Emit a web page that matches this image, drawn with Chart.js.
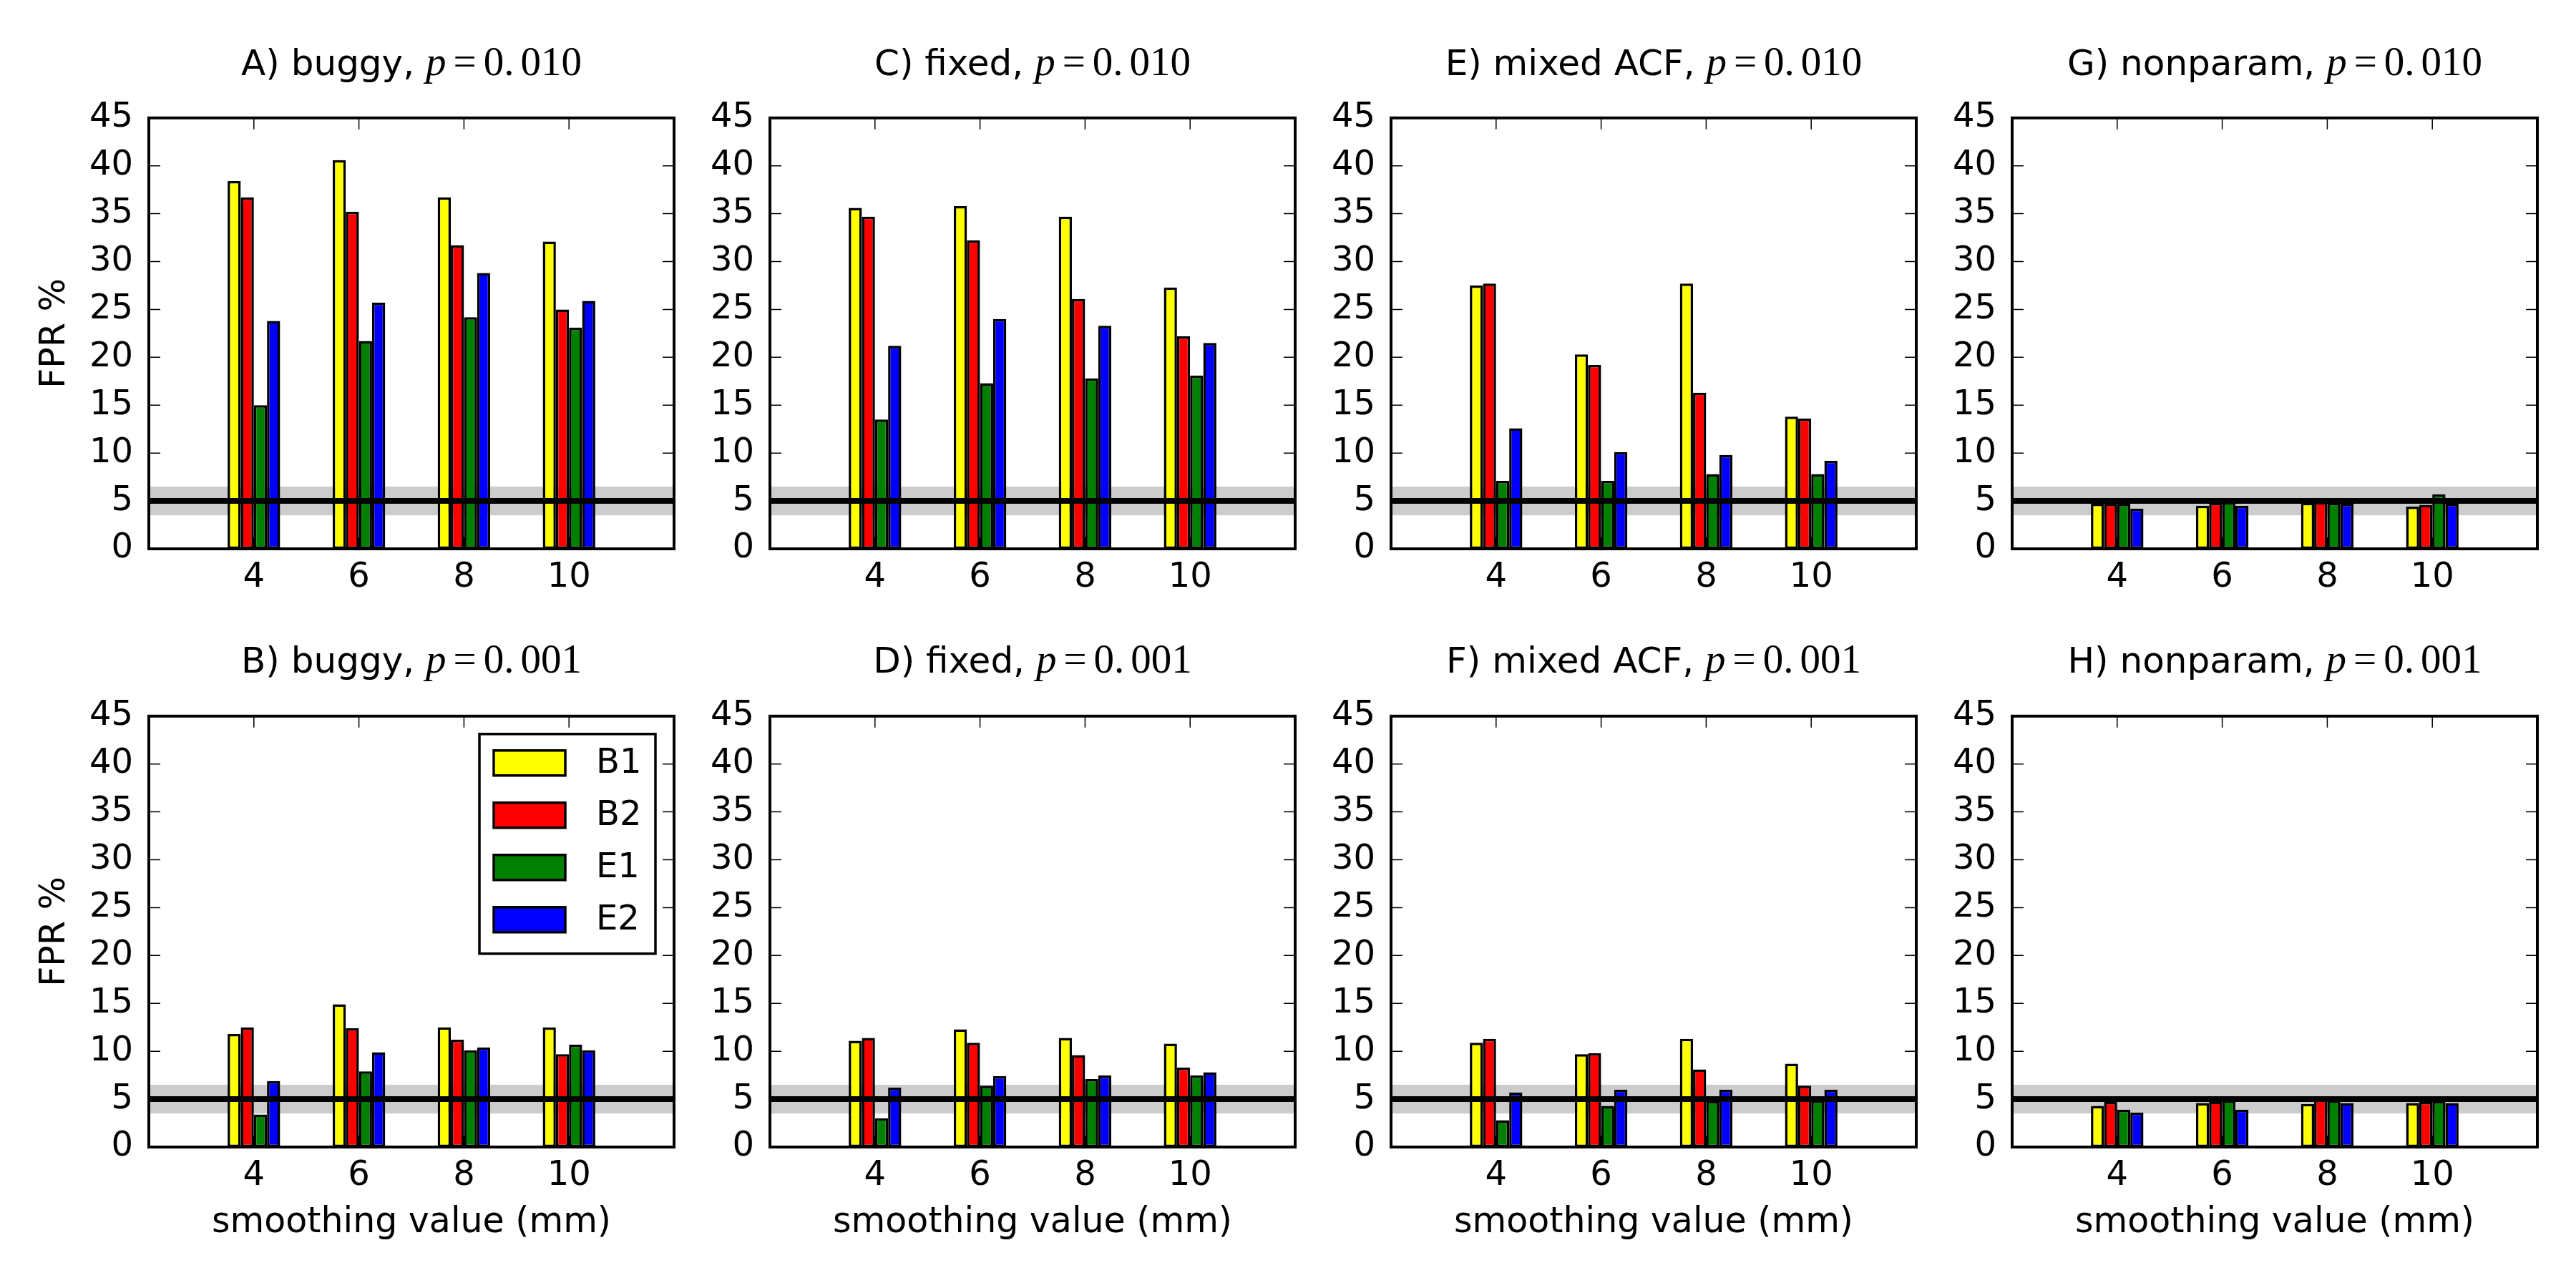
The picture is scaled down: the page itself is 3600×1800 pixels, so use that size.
<!DOCTYPE html>
<html>
<head>
<meta charset="utf-8">
<script src="https://cdn.jsdelivr.net/npm/chart.js@4.4.1/dist/chart.umd.min.js"></script>
<style>
  html, body { margin: 0; padding: 0; background: #fff; }
  body { width: 3600px; height: 1800px; position: relative; overflow: hidden; }
  canvas { position: absolute; }
  .ttl {
    position: absolute; width: 734px; text-align: center;
    font-family: 'DejaVu Sans'; font-size: 50px; line-height: 58px; color: #000;
    white-space: nowrap;
  }
  .ttl .m { font-family: 'Liberation Serif', 'DejaVu Serif', serif; font-size: 57px; }
  .ttl .eq { margin: 0 10px; }
  .ttl .dot { margin-right: 9px; }
</style>
</head>
<body>
<script>
// x values and series
const smoothing = [4, 6, 8, 10];
const seriesNames = ['B1', 'B2', 'E1', 'E2'];
const seriesColors = ['#ffff00', '#ff0000', '#008000', '#0000ff'];

// nominal FPR line and its band
const nominalRate = 5;
const bandLow = 3.5;
const bandHigh = 6.5;

// panel labels, column by column (top row p = 0.010, bottom row p = 0.001)
const panelLetters = [['A', 'B'], ['C', 'D'], ['E', 'F'], ['G', 'H']];
const methodNames = ['buggy', 'fixed', 'mixed ACF', 'nonparam'];
const pLabels = ['0.010', '0.001'];

// FPR % per series (rows: B1, B2, E1, E2; columns: smoothing 4, 6, 8, 10)
const buggy010 = [
  [38.4, 40.6, 36.7, 32.1],
  [36.7, 35.2, 31.7, 25.0],
  [15.0, 21.7, 24.2, 23.1],
  [23.8, 25.7, 28.8, 25.9]
];
const buggy001 = [
  [11.8, 14.9, 12.5, 12.5],
  [12.5, 12.4, 11.2, 9.7],
  [3.4, 7.9, 10.1, 10.7],
  [6.9, 9.9, 10.4, 10.1]
];
const fixed010 = [
  [35.6, 35.8, 34.7, 27.3],
  [34.7, 32.2, 26.1, 22.2],
  [13.5, 17.3, 17.8, 18.1],
  [21.2, 24.0, 23.3, 21.5]
];
const fixed001 = [
  [11.1, 12.3, 11.4, 10.8],
  [11.4, 10.9, 9.6, 8.3],
  [3.0, 6.4, 7.1, 7.5],
  [6.2, 7.4, 7.5, 7.8]
];
const mixed010 = [
  [27.5, 20.3, 27.7, 13.8],
  [27.7, 19.2, 16.3, 13.6],
  [7.1, 7.1, 7.8, 7.8],
  [12.6, 10.1, 9.8, 9.2]
];
const mixed001 = [
  [10.9, 9.7, 11.3, 8.7],
  [11.3, 9.8, 8.1, 6.4],
  [2.8, 4.3, 4.8, 4.9],
  [5.7, 6.0, 6.0, 6.0]
];
const nonparam010 = [
  [4.7, 4.5, 4.8, 4.4],
  [4.7, 4.8, 4.9, 4.6],
  [4.7, 4.9, 4.8, 5.7],
  [4.2, 4.5, 4.7, 4.7]
];
const nonparam001 = [
  [4.3, 4.6, 4.5, 4.6],
  [4.7, 4.75, 5.2, 4.7],
  [3.9, 4.9, 4.9, 4.8],
  [3.6, 3.9, 4.6, 4.6]
];

const panelData = [
  [buggy010, buggy001],
  [fixed010, fixed001],
  [mixed010, mixed001],
  [nonparam010, nonparam001]
];

const yTicks = [0, 5, 10, 15, 20, 25, 30, 35, 40, 45];

Chart.defaults.font.family = 'DejaVu Sans';
Chart.defaults.font.size = 47;
Chart.defaults.color = '#000';

// layout of the plot areas (pixels)
const colLeft = [208, 1076, 1944, 2812];
const rowTop = [124, 960];
const plotW = 734;
const plotH = 643;
const yAxisW = 208;
const padTop = 10;
const padRight = 24;
const xAxisH = [80, 190];

// band, reference line, inward ticks, frame and legend
const matplotlibLook = {
  id: 'matplotlibLook',
  beforeDatasetsDraw(chart) {
    const { ctx, chartArea: ca, scales: { y } } = chart;
    ctx.save();
    ctx.fillStyle = '#cccccc';
    const top = y.getPixelForValue(bandHigh);
    const bot = y.getPixelForValue(bandLow);
    ctx.fillRect(ca.left, top, ca.right - ca.left, bot - top);
    ctx.restore();
  },
  afterDatasetsDraw(chart) {
    const { ctx, chartArea: ca, scales: { y } } = chart;
    ctx.save();
    ctx.strokeStyle = '#000';
    ctx.lineWidth = 8;
    const py = y.getPixelForValue(nominalRate);
    ctx.beginPath();
    ctx.moveTo(ca.left, py);
    ctx.lineTo(ca.right, py);
    ctx.stroke();
    ctx.restore();
  },
  afterDraw(chart, args, opts) {
    const { ctx, chartArea: ca, scales: { x, y } } = chart;
    ctx.save();
    ctx.strokeStyle = '#000';
    ctx.lineWidth = 1.5;
    const tl = 16;
    ctx.beginPath();
    y.ticks.forEach(t => {
      const py = y.getPixelForValue(t.value);
      ctx.moveTo(ca.left, py); ctx.lineTo(ca.left + tl, py);
      ctx.moveTo(ca.right, py); ctx.lineTo(ca.right - tl, py);
    });
    x.ticks.forEach(t => {
      const px = x.getPixelForValue(t.value);
      ctx.moveTo(px, ca.top); ctx.lineTo(px, ca.top + tl);
      ctx.moveTo(px, ca.bottom); ctx.lineTo(px, ca.bottom - tl);
    });
    ctx.stroke();

    ctx.lineWidth = 4;
    ctx.strokeRect(ca.left, ca.top, ca.right - ca.left, ca.bottom - ca.top);

    if (opts.legend) {
      const bw = 246, bh = 307;
      const bx = ca.right - 26 - bw;
      const by = ca.top + 25;
      ctx.fillStyle = '#fff';
      ctx.fillRect(bx, by, bw, bh);
      ctx.lineWidth = 3.5;
      ctx.strokeRect(bx, by, bw, bh);
      ctx.font = '48px "DejaVu Sans"';
      ctx.textBaseline = 'middle';
      ctx.textAlign = 'left';
      chart.data.datasets.forEach((ds, i) => {
        const cy = by + 40 + i * 73;
        ctx.fillStyle = ds.backgroundColor;
        ctx.fillRect(bx + 20, cy - 17, 100, 35);
        ctx.strokeRect(bx + 20, cy - 17, 100, 35);
        ctx.fillStyle = '#000';
        ctx.fillText(ds.label, bx + 163, cy + 2);
      });
    }
    ctx.restore();
  }
};

function makePanel(col, row) {
  const values = panelData[col][row];
  const canvas = document.createElement('canvas');
  const w = yAxisW + plotW + padRight;
  const h = padTop + plotH + xAxisH[row];
  canvas.width = w;
  canvas.height = h;
  canvas.style.left = (colLeft[col] - yAxisW) + 'px';
  canvas.style.top = (rowTop[row] - padTop) + 'px';
  document.body.appendChild(canvas);

  const title = document.createElement('div');
  title.className = 'ttl';
  title.style.left = colLeft[col] + 'px';
  title.style.top = (row === 0 ? 57 : 892) + 'px';
  const p = pLabels[row];
  const dot = p.indexOf('.');
  title.innerHTML = panelLetters[col][row] + ') ' + methodNames[col] + ', ' +
    '<span class="m"><i>p</i><span class="eq">=</span>' +
    '<span class="dot">' + p.slice(0, dot + 1) + '</span>' + p.slice(dot + 1) + '</span>';
  document.body.appendChild(title);

  new Chart(canvas.getContext('2d'), {
    type: 'bar',
    data: {
      datasets: seriesNames.map((name, i) => ({
        label: name,
        data: smoothing.map((s, j) => ({ x: s, y: values[i][j] })),
        backgroundColor: seriesColors[i],
        borderColor: '#000',
        borderWidth: 3.5,
        borderSkipped: false,
        categoryPercentage: 0.5,
        barPercentage: 1.0
      }))
    },
    options: {
      responsive: false,
      animation: false,
      devicePixelRatio: 1,
      layout: { padding: { top: padTop, right: padRight, left: 0, bottom: 0 } },
      plugins: {
        legend: { display: false },
        tooltip: { enabled: false },
        matplotlibLook: { legend: col === 0 && row === 1 }
      },
      scales: {
        x: {
          type: 'linear',
          min: 2,
          max: 12,
          offset: false,
          grid: { display: false, drawTicks: false, offset: false },
          border: { display: false },
          afterBuildTicks: s => { s.ticks = smoothing.map(v => ({ value: v })); },
          ticks: { padding: 12, maxRotation: 0, autoSkip: false, font: { size: 48 } },
          title: {
            display: row === 1,
            text: 'smoothing value (mm)',
            font: { size: 49 },
            padding: { top: 0, bottom: 54 }
          },
          afterFit: s => { s.height = xAxisH[row]; }
        },
        y: {
          min: 0,
          max: 45,
          grid: { display: false, drawTicks: false },
          border: { display: false },
          afterBuildTicks: s => { s.ticks = yTicks.map(v => ({ value: v })); },
          ticks: { padding: 22, font: { size: 48 } },
          title: {
            display: col === 0,
            text: 'FPR %',
            font: { size: 49 },
            padding: { top: 48, bottom: 0 }
          },
          afterFit: s => { s.width = yAxisW; }
        }
      }
    },
    plugins: [matplotlibLook]
  });
}

for (let col = 0; col < 4; col++) {
  for (let row = 0; row < 2; row++) {
    makePanel(col, row);
  }
}
</script>
</body>
</html>
